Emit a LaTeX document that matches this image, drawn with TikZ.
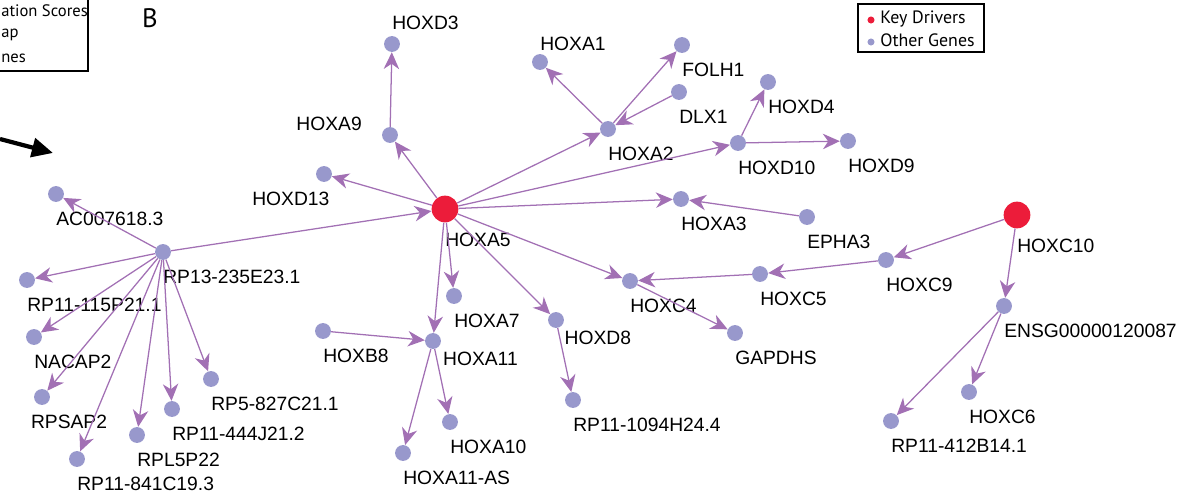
\documentclass[tikz,border=0pt]{standalone}
\usepackage{fontspec}
\setmainfont{Liberation Sans}
\newfontfamily\legendfont{PT Sans}
\usetikzlibrary{arrows.meta}

\definecolor{genecol}{RGB}{152,152,204}
\definecolor{drivercol}{RGB}{236,28,58}
\definecolor{edgecol}{RGB}{162,112,180}

\tikzset{
  gene/.style={circle, fill=genecol, inner sep=0pt, minimum size=11.3pt},
  driver/.style={circle, fill=drivercol, inner sep=0pt, minimum size=19pt},
  lbl/.style={font=\fontsize{13.7}{16}\selectfont, inner sep=0pt},
  tag/.style={lbl, anchor=north west, yshift=-7pt},
  link/.style={draw=edgecol, line width=0.9pt, -{Stealth[length=12pt, width=11pt, inset=3.8pt]}},
  legtext/.style={font=\legendfont\fontsize{12.7}{15}\selectfont, inner sep=0pt, anchor=west},
}

\begin{document}
\begin{tikzpicture}[x=0.025cm, y=-0.025cm]
  \useasboundingbox (0,0) rectangle (1199,497);

  % Cut-off legend of the panel on the left
  \draw[line width=1.1pt] (0,71) -- (88,71) -- (88,0);
  \node[legtext, font=\legendfont\fontsize{11.8}{14}\selectfont] (leftleg1) at (1,11) {ation Scores};
  \node[legtext, font=\legendfont\fontsize{11.8}{14}\selectfont] (leftleg2) at (1,35) {ap};
  \node[legtext, font=\legendfont\fontsize{11.8}{14}\selectfont] (leftleg3) at (1,58) {nes};

  % Big black arrow
  \coordinate (arrowstart) at (0,139);
  \coordinate (arrowend) at (53,153);
  \draw[line width=3pt, -{Triangle[length=15pt, width=13.5pt]}] (arrowstart) -- (arrowend);

  % Panel letter
  \node[font=\legendfont\fontsize{19}{22}\selectfont, inner sep=0pt] (panel) at (150,18) {B};

  % Legend
  \draw[line width=1.4pt] (858,4) rectangle (984,52);
  \node[circle, fill=drivercol, inner sep=0pt, minimum size=5pt] (legdriver) at (871,20) {};
  \node[circle, fill=genecol, inner sep=0pt, minimum size=5pt] (leggene) at (871,42) {};
  \node[legtext] (legdrivertext) at (880,19) {Key Drivers};
  \node[legtext] (leggenetext) at (880,40) {Other Genes};

  % Key drivers
  \node[driver, label={[tag]south:HOXA5}] (hoxa5) at (445,209) {};
  \node[driver, label={[tag]south:HOXC10}] (hoxc10) at (1017,215) {};

  % Genes around HOXA5
  \node[gene, label={[lbl, anchor=south west, yshift=4pt]north:HOXD3}] (hoxd3) at (392,44) {};
  \node[gene, label={[lbl, anchor=east, xshift=-14pt, yshift=8pt]west:HOXA9}] (hoxa9) at (390,135) {};
  \node[gene, label={[lbl, anchor=north east, xshift=4pt, yshift=-7pt]south:HOXD13}] (hoxd13) at (324,174) {};
  \node[gene, label={[lbl, anchor=south west, yshift=2pt]north:HOXA1}] (hoxa1) at (540,62) {};
  \node[gene, label={[tag]south:FOLH1}] (folh1) at (682,45) {};
  \node[gene, label={[tag]south:DLX1}] (dlx1) at (679,92) {};
  \node[gene, label={[tag]south:HOXA2}] (hoxa2) at (608,129) {};
  \node[gene, label={[tag]south:HOXD4}] (hoxd4) at (768,82) {};
  \node[gene, label={[tag]south:HOXD10}] (hoxd10) at (738,143) {};
  \node[gene, label={[tag]south:HOXD9}] (hoxd9) at (848,141) {};
  \node[gene, label={[tag]south:HOXA3}] (hoxa3) at (681,199) {};
  \node[gene, label={[tag]south:EPHA3}] (epha3) at (807,217) {};
  \node[gene, label={[tag]south:HOXA7}] (hoxa7) at (454,296) {};
  \node[gene, label={[lbl, anchor=north west, xshift=7pt, yshift=-1.5pt]south:HOXA11}] (hoxa11) at (433,341) {};
  \node[gene, label={[tag]south:HOXB8}] (hoxb8) at (323,331) {};
  \node[gene, label={[tag]south:HOXA10}] (hoxa10) at (450,422) {};
  \node[gene, label={[tag]south:HOXA11-AS}] (hoxa11as) at (403,453) {};
  \node[gene, label={[lbl, anchor=north west, xshift=6pt, yshift=-2pt]south:HOXD8}] (hoxd8) at (556,320) {};
  \node[gene, label={[tag]south:RP11-1094H24.4}] (rp1094) at (573,400) {};
  \node[gene, label={[tag]south:HOXC4}] (hoxc4) at (630,281) {};
  \node[gene, label={[tag]south:GAPDHS}] (gapdhs) at (735,333) {};

  % Genes around RP13-235E23.1
  \node[gene, label={[tag]south:RP13-235E23.1}] (rp13) at (163,252) {};
  \node[gene, label={[tag]south:AC007618.3}] (ac007) at (56,194) {};
  \node[gene, label={[tag]south:RP11-115P21.1}] (rp115) at (27,280) {};
  \node[gene, label={[tag]south:NACAP2}] (nacap2) at (34,337) {};
  \node[gene, label={[tag, xshift=-8pt]south:RPSAP2}] (rpsap2) at (42,397) {};
  \node[gene, label={[tag]south:RP11-841C19.3}] (rp841) at (77,459) {};
  \node[gene, label={[tag]south:RPL5P22}] (rpl5p22) at (137,435) {};
  \node[gene, label={[tag]south:RP11-444J21.2}] (rp444) at (172,409) {};
  \node[gene, label={[tag]south:RP5-827C21.1}] (rp5) at (211,379) {};

  % Genes around HOXC10
  \node[gene, label={[tag]south:HOXC5}] (hoxc5) at (760,274) {};
  \node[gene, label={[tag]south:HOXC9}] (hoxc9) at (886,260) {};
  \node[gene, label={[tag]south:ENSG00000120087}] (ensg) at (1004,306) {};
  \node[gene, label={[tag]south:HOXC6}] (hoxc6) at (969,392) {};
  \node[gene, label={[tag]south:RP11-412B14.1}] (rp412) at (891,421) {};

  % Draw edges from HOXA5
  \draw[link] (hoxa5) -- (hoxa9);
  \draw[link] (hoxa9) -- (hoxd3);
  \draw[link] (hoxa5) -- (hoxd13);
  \draw[link] (hoxa5) -- (hoxa2);
  \draw[link] (hoxa2) -- (hoxa1);
  \draw[link] (hoxa2) -- (folh1);
  \draw[link] (dlx1) -- (hoxa2);
  \draw[link] (hoxa5) -- (hoxd10);
  \draw[link] (hoxd10) -- (hoxd4);
  \draw[link] (hoxd10) -- (hoxd9);
  \draw[link] (hoxa5) -- (hoxa3);
  \draw[link] (epha3) -- (hoxa3);
  \draw[link] (hoxa5) -- (hoxa7);
  \draw[link] (hoxa5) -- (hoxa11);
  \draw[link] (hoxb8) -- (hoxa11);
  \draw[link] (hoxa11) -- (hoxa10);
  \draw[link] (hoxa11) -- (hoxa11as);
  \draw[link] (hoxa5) -- (hoxd8);
  \draw[link] (hoxd8) -- (rp1094);
  \draw[link] (hoxa5) -- (hoxc4);
  \draw[link] (hoxc4) -- (gapdhs);

  % Draw edges from RP13-235E23.1
  \draw[link] (rp13) -- (hoxa5);
  \draw[link] (rp13) -- (ac007);
  \draw[link] (rp13) -- (rp115);
  \draw[link] (rp13) -- (nacap2);
  \draw[link] (rp13) -- (rpsap2);
  \draw[link] (rp13) -- (rp841);
  \draw[link] (rp13) -- (rpl5p22);
  \draw[link] (rp13) -- (rp444);
  \draw[link] (rp13) -- (rp5);

  % Draw edges from HOXC10
  \draw[link] (hoxc10) -- (hoxc9);
  \draw[link] (hoxc9) -- (hoxc5);
  \draw[link] (hoxc5) -- (hoxc4);
  \draw[link] (hoxc10) -- (ensg);
  \draw[link] (ensg) -- (hoxc6);
  \draw[link] (ensg) -- (rp412);
\end{tikzpicture}
\end{document}
